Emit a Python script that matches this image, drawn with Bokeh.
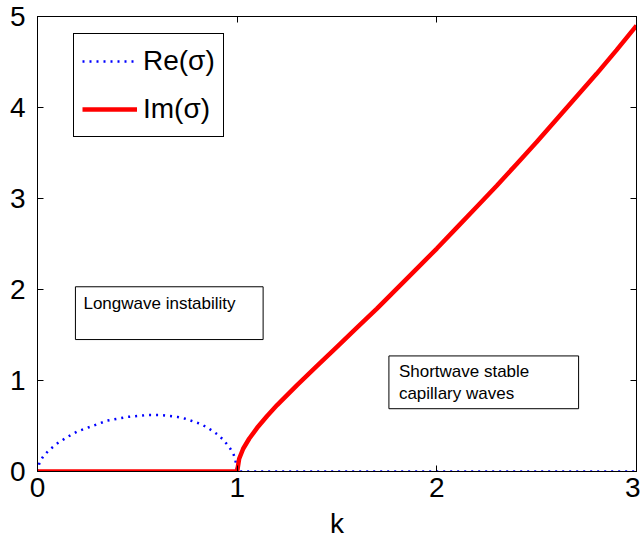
from bokeh.plotting import figure
from bokeh.models import (Range1d, LinearAxis, FixedTicker, BoxAnnotation, Label,
                          Legend, LegendItem)
from bokeh.embed import file_html
from bokeh.resources import INLINE

# Data
k_re = [0, 0.01, 0.03, 0.06, 0.1, 0.15, 0.2, 0.25, 0.3, 0.35, 0.4, 0.45, 0.5, 0.55,
        0.58, 0.62, 0.66, 0.7, 0.74, 0.78, 0.82, 0.86, 0.9, 0.93, 0.96, 0.98, 0.99,
        1.0, 3.0]
re_sigma = [0, 0.10, 0.17, 0.24, 0.31, 0.38, 0.44, 0.48, 0.52, 0.56, 0.58, 0.60, 0.61,
            0.62, 0.62, 0.62, 0.61, 0.60, 0.58, 0.55, 0.52, 0.47, 0.41, 0.35, 0.27,
            0.20, 0.14, 0.0, 0.0]
k_im = [0, 1.0, 1.01, 1.03, 1.06, 1.1, 1.15, 1.2, 1.25, 1.3, 1.4, 1.5, 1.6, 1.7, 1.8,
        1.9, 2.0, 2.1, 2.2, 2.3, 2.4, 2.5, 2.6, 2.7, 2.8, 2.9, 3.0]
im_sigma = [0, 0, 0.14, 0.25, 0.36, 0.48, 0.61, 0.73, 0.84, 0.95, 1.16, 1.37, 1.58,
            1.79, 2.01, 2.23, 2.45, 2.68, 2.91, 3.14, 3.38, 3.62, 3.87, 4.12, 4.37,
            4.63, 4.90]

x_ticks = [0, 1, 2, 3]
y_ticks = [0, 1, 2, 3, 4, 5]
legend_labels = ["Re(σ)", "Im(σ)"]
note_long = "Longwave instability"
note_short = ["Shortwave stable", "capillary waves"]

FONT = "Liberation Sans"

p = figure(width=640, height=544, output_backend="svg", toolbar_location=None,
           x_range=Range1d(0, 3), y_range=Range1d(0, 5),
           min_border_left=37, min_border_right=4, min_border_top=16,
           min_border_bottom=73, x_axis_label="k")
p.grid.visible = False
p.outline_line_color = "black"
p.outline_line_width = 1
p.outline_line_alpha = 1
p.background_fill_color = "white"
p.border_fill_color = "white"

for ax in p.xaxis:
    ax.ticker = FixedTicker(ticks=x_ticks)
for ax in p.yaxis:
    ax.ticker = FixedTicker(ticks=y_ticks)

for ax in list(p.xaxis) + list(p.yaxis):
    ax.major_tick_in = 6
    ax.major_tick_out = 0
    ax.minor_tick_line_color = None
    ax.axis_line_color = "black"
    ax.major_tick_line_color = "black"
    ax.major_label_text_font = FONT
    ax.major_label_text_font_size = "28px"
    ax.major_label_text_color = "black"
    ax.axis_label_text_font = FONT
    ax.axis_label_text_font_size = "28px"
    ax.axis_label_text_font_style = "normal"
    ax.axis_label_text_color = "black"

p.xaxis.major_label_standoff = 6
p.xaxis.axis_label_standoff = 8
p.yaxis.major_label_standoff = 12

# mirrored ticks on top and right (box style)
top_ax = LinearAxis(ticker=FixedTicker(ticks=x_ticks), major_tick_in=6, major_tick_out=0,
                    minor_tick_line_color=None, major_label_text_font_size="1px",
                    major_label_text_alpha=0, major_label_standoff=0,
                    axis_line_color="black", major_tick_line_color="black")
right_ax = LinearAxis(ticker=FixedTicker(ticks=y_ticks), major_tick_in=6, major_tick_out=0,
                      minor_tick_line_color=None, major_label_text_font_size="1px",
                      major_label_text_alpha=0, major_label_standoff=0,
                      axis_line_color="black", major_tick_line_color="black")
p.add_layout(top_ax, "above")
p.add_layout(right_ax, "right")

r_re = p.line(k_re, re_sigma, line_color="#0000ff", line_width=2.5, line_dash="2 5")
r_im = p.line(k_im, im_sigma, line_color="#ff0000", line_width=4.5)

legend = Legend(items=[LegendItem(label=legend_labels[0], renderers=[r_re]),
                       LegendItem(label=legend_labels[1], renderers=[r_im])],
                location=(36, 334), label_text_font=FONT, label_text_font_size="28px",
                label_text_color="black",
                border_line_color="black", border_line_width=1, border_line_alpha=1,
                background_fill_color="white", background_fill_alpha=1,
                glyph_width=55, glyph_height=30, label_height=38, spacing=10,
                padding=8, label_standoff=6, margin=0)
p.add_layout(legend, "center")

box1 = BoxAnnotation(left=0.19, right=1.13, bottom=1.45, top=2.03,
                     fill_color="white", fill_alpha=1, line_color="black",
                     line_alpha=1, line_width=1)
box2 = BoxAnnotation(left=1.76, right=2.71, bottom=0.69, top=1.27,
                     fill_color="white", fill_alpha=1, line_color="black",
                     line_alpha=1, line_width=1)
p.add_layout(box1)
p.add_layout(box2)

for (lx, ly, txt) in [(0.23, 1.95, note_long), (1.81, 1.20, note_short[0]),
                      (1.81, 0.96, note_short[1])]:
    p.add_layout(Label(x=lx, y=ly, text=txt, text_font=FONT, text_font_size="17px",
                       text_color="black", text_baseline="top"))

open("out.html", "w").write(file_html(p, INLINE))
